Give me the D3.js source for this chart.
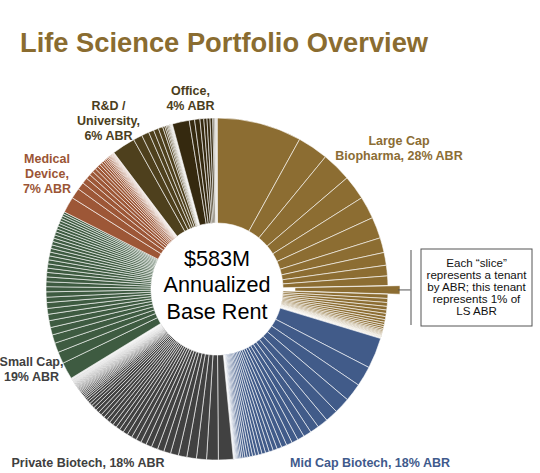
<!DOCTYPE html>
<html><head><meta charset="utf-8">
<script src="https://cdn.jsdelivr.net/npm/d3@7"></script>
<style>
body{margin:0;background:#fff}
svg{display:block;font-family:"Liberation Sans",Arial,sans-serif}
</style>
</head><body>
<svg id="chart" width="540" height="473"></svg>
<script>
// ---- DATA (share of Life Science ABR, % per tenant) ----
const categories = ["Large Cap Biopharma", "Mid Cap Biotech", "Private Biotech", "Small Cap", "Medical Device", "R&D / University", "Office"];
const categoryPct = [28, 18, 18, 19, 7, 6, 4];
const largeCap = [8.0, 2.9, 2.8, 2.3, 2.1, 2.0, 1.4, 1.2, 1.0, 0.9, 0.8,
  0.40, 0.38, 0.36, 0.34, 0.32, 0.30, 0.28, 0.25, 0.22, 0.20, 0.18, 0.15, 0.12,
  0.10, 0.09, 0.08, 0.07, 0.06, 0.05, 0.05, 0.04, 0.04, 0.03, 0.03, 0.02, 0.02];
const midCap = [2.9, 1.9, 1.7, 1.5, 1.2, 1.0, 0.85, 0.75, 0.65, 0.6, 0.55, 0.5, 0.45, 0.4,
  0.38, 0.36, 0.34, 0.32, 0.3, 0.28, 0.26, 0.24, 0.22, 0.2, 0.18, 0.15, 0.12, 0.1, 0.08,
  0.06, 0.05, 0.04, 0.03, 0.03, 0.02, 0.02];
const privateBiotech = [1.4, 1.1, 0.95, 0.9, 0.8, 0.75, 0.65, 0.62, 0.6, 0.55, 0.52, 0.5,
  0.48, 0.47, 0.45, 0.4, 0.39, 0.38, 0.37, 0.36, 0.35, 0.34, 0.33, 0.32,
  0.3, 0.28, 0.26, 0.24, 0.22, 0.18, 0.16, 0.15, 0.14, 0.13, 0.12, 0.11, 0.1,
  0.09, 0.09, 0.08, 0.08, 0.07, 0.07, 0.06, 0.06, 0.06, 0.05, 0.05, 0.05, 0.05,
  0.04, 0.04, 0.04, 0.04, 0.04, 0.03, 0.03, 0.03, 0.03, 0.03, 0.03,
  0.02, 0.02, 0.02, 0.02, 0.02, 0.02];
const smallCap = [1.6, 1.1, 0.9, 0.8, 0.7, 0.65, 0.6, 0.55, 0.55, 0.5, 0.5, 0.48, 0.46, 0.45,
  0.42, 0.4, 0.4, 0.38, 0.37, 0.36, 0.35, 0.34, 0.33, 0.32, 0.31, 0.3, 0.29, 0.28, 0.27,
  0.26, 0.25, 0.24, 0.22, 0.2];
const medicalDevice = [1.5, 1.0, 0.7, 0.55, 0.45, 0.4, 0.35, 0.3, 0.27, 0.24, 0.21, 0.18,
  0.16, 0.14, 0.12, 0.1, 0.09, 0.08, 0.07, 0.06, 0.05, 0.05, 0.04, 0.04, 0.03, 0.03, 0.02];
const rdUniversity = [2.2, 0.85, 0.7, 0.5, 0.47, 0.42, 0.2, 0.15, 0.12, 0.1, 0.08, 0.06,
  0.05, 0.04, 0.04, 0.03, 0.03, 0.02, 0.02];
const office = [1.6, 0.5, 0.5, 0.36, 0.3, 0.28, 0.25, 0.12, 0.08, 0.06, 0.05, 0.04, 0.03, 0.02];
const tenantShares = [largeCap, midCap, privateBiotech, smallCap, medicalDevice, rdUniversity, office];
const highlighted = {cat: 0, idx: 10};
const totalABR = "$583M";

// ---- STYLE ----
const sliceColors = ["#8c6d32", "#415b89", "#414141", "#3e5b41", "#9d5737", "#4e401d", "#35290f"];
const labelColors = ["#8b6d34", "#3f5a8c", "#404040", "#404040", "#9b5535", "#4b3e1c", "#4b3e1c"];

const svg = d3.select("#chart");
const cx = 217, cy = 289, rIn = 66, rOut = 171, pop = 12;

svg.append("text").attr("x", 20).attr("y", 52)
  .attr("font-size", 27.3).attr("font-weight", "bold").attr("fill", "#8a6c30")
  .text("Life Science Portfolio Overview");

const flat = [];
tenantShares.forEach((arr, ci) => arr.forEach((v, ti) => flat.push({cat: ci, idx: ti, value: v})));
const pie = d3.pie().sort(null).value(d => d.value);
const arcs = pie(flat);
const arc = d3.arc().innerRadius(rIn).outerRadius(rOut);
const isHi = d => d.data.cat === highlighted.cat && d.data.idx === highlighted.idx;

const g = svg.append("g").attr("transform", `translate(${cx},${cy})`);
g.selectAll("path").data(arcs).join("path")
  .attr("d", arc)
  .attr("fill", d => sliceColors[d.data.cat])
  .attr("stroke", "#fff")
  .attr("stroke-width", 0.6)
  .attr("transform", d => {
    if (!isHi(d)) return null;
    const m = (d.startAngle + d.endAngle) / 2;
    return `translate(${pop * Math.sin(m)},${-pop * Math.cos(m)})`;
  });

// callout
const hi = arcs.find(isHi);
const hm = (hi.startAngle + hi.endAngle) / 2;
const tipX = cx + (rOut + pop) * Math.sin(hm), tipY = cy - (rOut + pop) * Math.cos(hm);
svg.append("line").attr("x1", tipX - 2).attr("y1", tipY).attr("x2", 411).attr("y2", tipY)
  .attr("stroke", "#555").attr("stroke-width", 1);
svg.append("line").attr("x1", 411).attr("y1", 250).attr("x2", 411).attr("y2", 325)
  .attr("stroke", "#8a8a8a").attr("stroke-width", 1.5);
svg.append("rect").attr("x", 421).attr("y", 249).attr("width", 111).attr("height", 77)
  .attr("fill", "#fff").attr("stroke", "#555").attr("stroke-width", 1);
const boxLines = ["Each \u201cslice\u201d", "represents a tenant", "by ABR; this tenant", "represents 1% of", "LS ABR"];
svg.append("g").selectAll("text").data(boxLines).join("text")
  .attr("x", 476.5).attr("y", (d, i) => 267 + i * 12)
  .attr("text-anchor", "middle").attr("font-size", 11.6).attr("fill", "#111")
  .text(d => d);

// center text
const centerLines = [totalABR, "Annualized", "Base Rent"];
svg.append("g").selectAll("text").data(centerLines).join("text")
  .attr("x", cx).attr("y", (d, i) => 265.5 + i * 26.5)
  .attr("text-anchor", "middle").attr("font-size", 21.6).attr("fill", "#000")
  .text(d => d);

// category labels
const labelLayout = [
  {lines: ["Large Cap", `Biopharma, ${categoryPct[0]}% ABR`], x: 399, y: 144.5},
  {lines: [`Mid Cap Biotech, ${categoryPct[1]}% ABR`], x: 370, y: 466.5},
  {lines: [`Private Biotech, ${categoryPct[2]}% ABR`], x: 88, y: 466.5},
  {lines: ["Small Cap,", `${categoryPct[3]}% ABR`], x: 31.5, y: 366},
  {lines: ["Medical", "Device,", `${categoryPct[4]}% ABR`], x: 47, y: 163},
  {lines: ["R&D /", "University,", `${categoryPct[5]}% ABR`], x: 108.5, y: 109.5},
  {lines: ["Office,", `${categoryPct[6]}% ABR`], x: 190.5, y: 95}
];
labelLayout.forEach((L, ci) => {
  const t = svg.append("text").attr("text-anchor", "middle").attr("font-size", 12.5)
    .attr("font-weight", "bold").attr("fill", labelColors[ci]);
  L.lines.forEach((s, i) => t.append("tspan").attr("x", L.x).attr("y", L.y + i * 15).text(s));
});
</script>
</body></html>
